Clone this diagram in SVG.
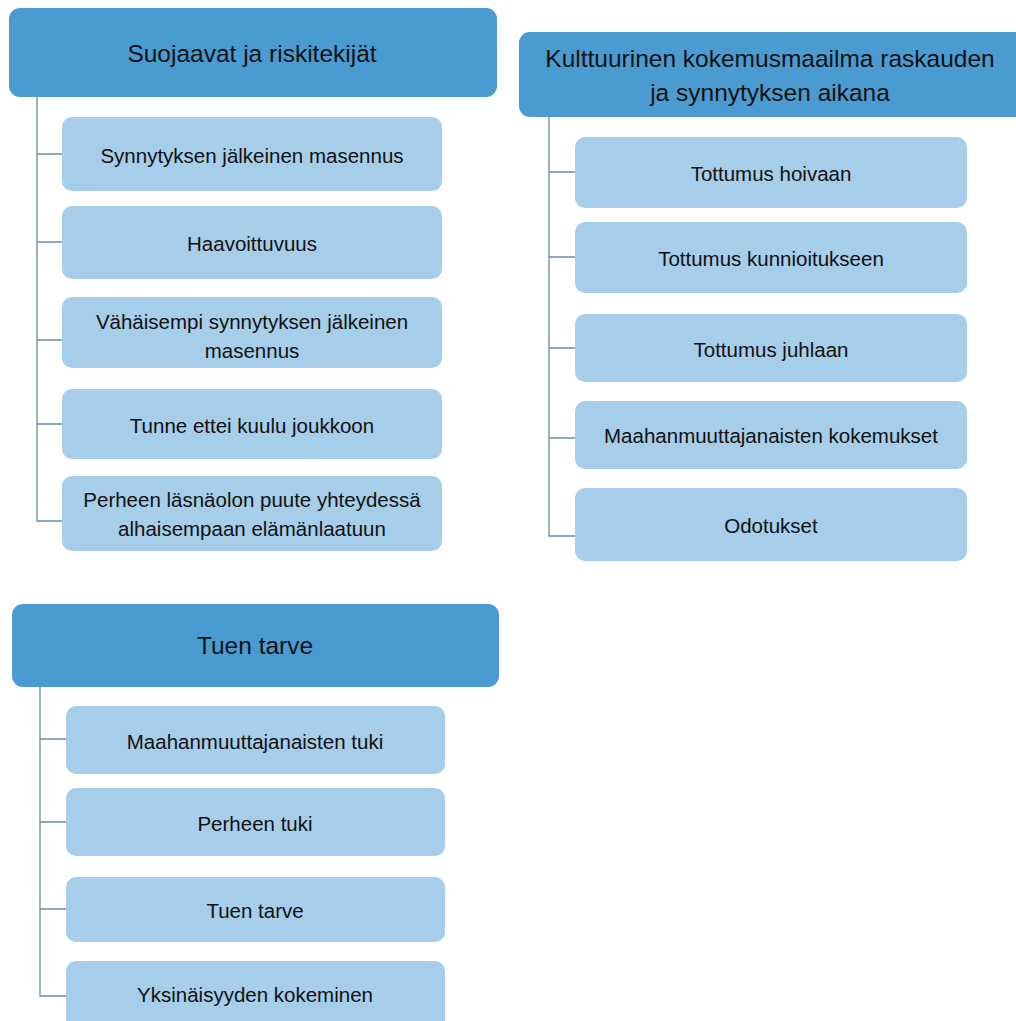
<svg xmlns="http://www.w3.org/2000/svg" width="1016" height="1021" viewBox="0 0 1016 1021">
<style>
.hdr{fill:#4a9bd1;}
.box{fill:#a6cde9;}
.conn{fill:none;stroke:#6a8aa6;stroke-width:1.3;}
text{font-family:"Liberation Sans",Arial,sans-serif;fill:#111;text-anchor:middle;dominant-baseline:central;}
.ht{font-size:24.5px;}
.bt{font-size:20.5px;}
</style>
<rect width="1016" height="1021" fill="#fff"/>
<g id="connectors">
<path class="conn" d="M37 97 V521 H62 M37 154 H62 M37 242 H62 M37 340 H62 M37 424 H62"/>
<path class="conn" d="M549 117 V536 H575 M549 172 H575 M549 257 H575 M549 348 H575 M549 438 H575"/>
<path class="conn" d="M40 687 V996 H66 M40 739 H66 M40 822 H66 M40 909 H66"/>
</g>
<g id="h1"><rect class="hdr" x="9" y="8" width="488" height="89" rx="11"/><text class="ht" x="252" y="53">Suojaavat ja riskitekijät</text></g>
<g id="l1"><rect class="box" x="62" y="117" width="380" height="74" rx="10"/><text class="bt" x="252" y="155">Synnytyksen jälkeinen masennus</text></g>
<g id="l2"><rect class="box" x="62" y="206" width="380" height="73" rx="10"/><text class="bt" x="252" y="243">Haavoittuvuus</text></g>
<g id="l3"><rect class="box" x="62" y="297" width="380" height="71" rx="10"/><text class="bt" x="252" y="321">Vähäisempi synnytyksen jälkeinen</text><text class="bt" x="252" y="350">masennus</text></g>
<g id="l4"><rect class="box" x="62" y="389" width="380" height="70" rx="10"/><text class="bt" x="252" y="425">Tunne ettei kuulu joukkoon</text></g>
<g id="l5"><rect class="box" x="62" y="476" width="380" height="75" rx="10"/><text class="bt" x="252" y="499">Perheen läsnäolon puute yhteydessä</text><text class="bt" x="252" y="528">alhaisempaan elämänlaatuun</text></g>
<g id="h2"><rect class="hdr" x="519" y="32" width="510" height="85" rx="11"/><text class="ht" x="770" y="58">Kulttuurinen kokemusmaailma raskauden</text><text class="ht" x="770" y="92">ja synnytyksen aikana</text></g>
<g id="r1"><rect class="box" x="575" y="137" width="392" height="71" rx="10"/><text class="bt" x="771" y="173">Tottumus hoivaan</text></g>
<g id="r2"><rect class="box" x="575" y="222" width="392" height="71" rx="10"/><text class="bt" x="771" y="258">Tottumus kunnioitukseen</text></g>
<g id="r3"><rect class="box" x="575" y="314" width="392" height="68" rx="10"/><text class="bt" x="771" y="349">Tottumus juhlaan</text></g>
<g id="r4"><rect class="box" x="575" y="401" width="392" height="68" rx="10"/><text class="bt" x="771" y="435">Maahanmuuttajanaisten kokemukset</text></g>
<g id="r5"><rect class="box" x="575" y="488" width="392" height="73" rx="10"/><text class="bt" x="771" y="525">Odotukset</text></g>
<g id="h3"><rect class="hdr" x="12" y="604" width="487" height="83" rx="11"/><text class="ht" x="255" y="645">Tuen tarve</text></g>
<g id="t1"><rect class="box" x="66" y="706" width="379" height="68" rx="10"/><text class="bt" x="255" y="741">Maahanmuuttajanaisten tuki</text></g>
<g id="t2"><rect class="box" x="66" y="788" width="379" height="68" rx="10"/><text class="bt" x="255" y="823">Perheen tuki</text></g>
<g id="t3"><rect class="box" x="66" y="877" width="379" height="65" rx="10"/><text class="bt" x="255" y="910">Tuen tarve</text></g>
<g id="t4"><rect class="box" x="66" y="961" width="379" height="72" rx="10"/><text class="bt" x="255" y="994">Yksinäisyyden kokeminen</text></g>
</svg>
